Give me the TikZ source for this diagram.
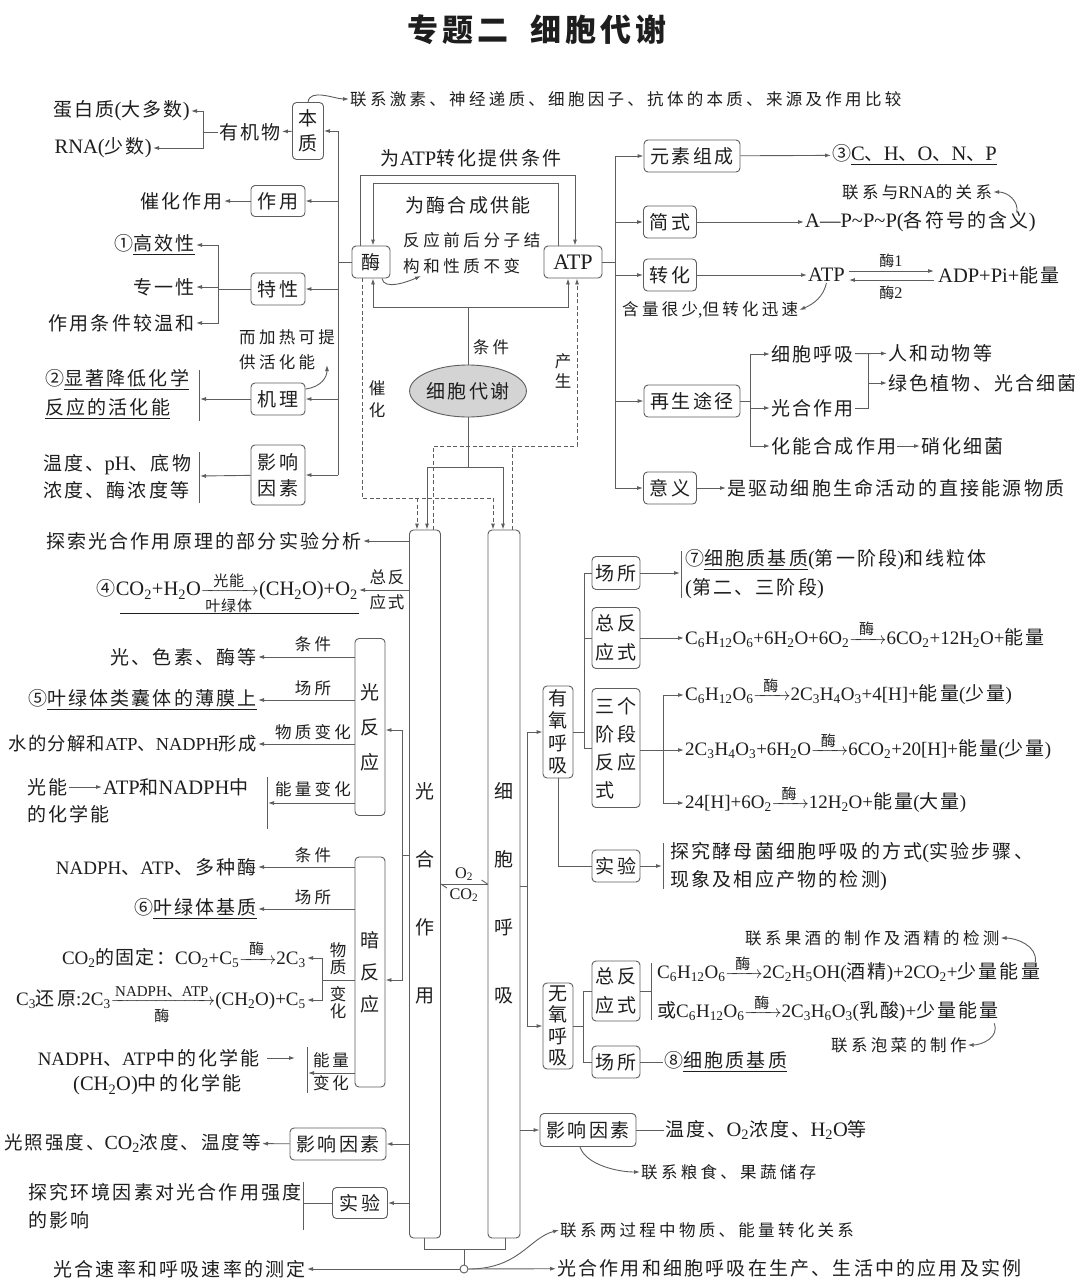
\documentclass[tikz,border=0pt]{standalone}
\usepackage{amsmath}
\usepackage{fontspec}
\setmainfont{Noto Sans CJK SC}
\newfontfamily\latfa{Liberation Serif}[Scale=1.08]
\newfontfamily\latfs{Liberation Serif}
\let\latf\latfa
\usetikzlibrary{arrows.meta,shapes.geometric,calc}
\definecolor{lc}{HTML}{5E5E5E}
\definecolor{tc}{HTML}{1E1E1E}
\definecolor{ellg}{HTML}{D4D4D4}
\newdimen\cjkgap \cjkgap=2.2pt
\chardef\CJKcls=42
\chardef\LATcls=43
\newcount\clscnt
\def\setcls#1#2#3{\clscnt=#2\relax\loop\XeTeXcharclass\clscnt=#1\relax\advance\clscnt by 1\relax\ifnum\clscnt<#3\relax\repeat}
\setcls{\CJKcls}{"4E00}{"A000}
\setcls{\CJKcls}{"3000}{"3040}
\setcls{\CJKcls}{"FF00}{"FFF0}
\setcls{\CJKcls}{"2460}{"2500}
\setcls{\LATcls}{"21}{"7F}
\setcls{\LATcls}{"2010}{"2028}
\XeTeXinterchartokenstate=1
\XeTeXinterchartoks 4095 \LATcls = {\latf}
\XeTeXinterchartoks \CJKcls \LATcls = {\latf}
\XeTeXinterchartoks 0 \LATcls = {\latf}
\XeTeXinterchartoks \LATcls \CJKcls = {\rmfamily}
\XeTeXinterchartoks \LATcls 4095 = {\rmfamily}
\XeTeXinterchartoks \LATcls 0 = {\rmfamily}
\XeTeXinterchartoks \CJKcls \CJKcls = {\kern\cjkgap}
\newcommand\msz{\fontsize{19}{23}\selectfont\cjkgap=2.2pt\relax}
\newcommand\fsz{\msz\let\latf\latfs}
\newcommand\ssz{\fontsize{16.5}{20}\selectfont\cjkgap=3.3pt\relax}
\newcommand\lsz{\fontsize{15}{18}\selectfont\cjkgap=1pt\relax}
\newcommand\rxa[1]{$\smash{\xrightarrow{\text{\lsz\makebox[26pt]{#1}}}}$}
\newcommand\rxb[2]{$\smash{\xrightarrow[\text{\lsz #2}]{\text{\lsz #1}}}$}
\newcommand\sub[1]{\textsubscript{#1}}
\begin{document}
\begin{tikzpicture}[x=1pt,y=-1pt,
  every node/.style={inner sep=1pt,text=tc,font=\msz},
  ln/.style={draw=lc,line width=0.9pt},
  arr/.style={ln,-{Latex[length=6pt,width=4pt]}},
  dl/.style={ln,dash pattern=on 4pt off 2.5pt},
  bx/.style={draw=lc,line width=0.9pt,rounded corners=4pt,inner sep=2pt,align=center},
  sm/.style={font=\ssz},
  fm/.style={font=\fsz}]
\fill[white] (0,0) rectangle (1080,1286);
\useasboundingbox (0,0) rectangle (1080,1286);
% title
\node[font={\fontsize{31}{36}\selectfont\bfseries\cjkgap=4pt}] (title) at (537,30) {专题二\hspace{22pt}细胞代谢};
% ===== enzyme =====
\node[bx,minimum width=31,minimum height=57,font={\fontsize{19}{25}\selectfont}] (bz) at (308,131) {本\\质};
\node (yjw) at (250,132) {有机物};
\coordinate (b1) at (203,132);
\node[anchor=east] (dbz) at (191,111) {蛋白质(大多数)};
\node[anchor=east] (rna) at (153,148) {RNA(少数)};
\draw[arr] (bz) -- (yjw);
\draw[ln] (yjw) -- (b1);
\draw[arr] (b1) |- (dbz);
\draw[arr] (b1) |- (rna);
\coordinate (sp1) at (338,131);
\coordinate (sp5) at (338,475);
\draw[ln] (sp1) -- (sp5);
\draw[arr] (sp1) -- (bz);
\node[bx,minimum width=54,minimum height=31] (zy) at (278,201) {作用};
\draw[arr] (zy.east -| sp1) -- (zy);
\node[anchor=east] (chzy) at (224,201) {催化作用};
\draw[arr] (zy) -- (chzy);
\node[bx,minimum width=54,minimum height=32] (tx) at (278,289) {特性};
\draw[arr] (tx.east -| sp1) -- (tx);
\coordinate (b2) at (218,289);
\draw[ln] (tx) -- (b2);
\node[anchor=east] (gxx) at (196,245) {①\underline{高效性}};
\node[anchor=east] (zyx) at (196,287) {专一性};
\node[anchor=east] (whx) at (196,323) {作用条件较温和};
\draw[arr] (b2) |- (gxx);
\draw[arr] (b2) |- (zyx);
\draw[arr] (b2) |- (whx);
\node[bx,minimum width=54,minimum height=32] (jl) at (278,399) {机理};
\draw[arr] (jl.east -| sp1) -- (jl);
\coordinate (b3) at (200,399);
\draw[arr] (jl) -- (b3);
\draw[ln] (199,370) -- (199,421);
\node[anchor=west,align=left,font={\fontsize{19}{29}\selectfont}] (jlt) at (44,394) {②\underline{显著降低化学}\\\underline{反应的活化能}};
\node[anchor=west,align=left,font={\fontsize{16.5}{25}\selectfont\cjkgap=3.3pt}] (jrt) at (238,350) {而加热可提\\供活化能};
\coordinate (jrtip) at (327,365);
\draw[arr] (jl.east) ++(0,-10) .. controls +(16,-2) and +(0,12) .. (jrtip);
\node[bx,minimum width=54,minimum height=60,font={\fontsize{19}{26}\selectfont}] (yx) at (278,475) {影响\\因素};
\draw[arr] (sp5) -- (yx);
\coordinate (b4) at (200,476);
\draw[arr] (yx) -- (b4);
\draw[ln] (199,452) -- (199,503);
\node[anchor=west,align=left,font={\fontsize{19}{27}\selectfont}] (yxt) at (42,477) {温度、pH、底物\\浓度、酶浓度等};
\node[anchor=west,sm] (lxjs) at (349,99) {联系激素、神经递质、细胞因子、抗体的本质、来源及作用比较};
\draw[arr] (bz.north) .. controls +(2,-14) and +(-14,0) .. (lxjs.west);
% ===== center =====
\node[bx,minimum width=38,minimum height=32] (mei) at (371,262) {酶};
\node[bx,minimum width=58,minimum height=32,font={\fontsize{20.5}{24}\selectfont}] (atp) at (573,262) {ATP};
\draw[ln] (mei.west -| sp1) -- (mei);
\coordinate (o1) at (360,175); \coordinate (o2) at (575,175);
\draw[arr] (mei.north -| o1) -- (o1) -- (o2) -- (atp.north -| o2);
\coordinate (i1) at (558,183); \coordinate (i2) at (373,183);
\draw[arr] (atp.north -| i1) -- (i1) -- (i2) -- (mei.north -| i2);
\node (wzh) at (471,158) {为ATP转化提供条件};
\node (wmh) at (468,205) {为酶合成供能};
\node[anchor=west,align=left,font={\fontsize{16.5}{26}\selectfont\cjkgap=3.6pt}] (fyq) at (402,253) {反应前后分子结\\构和性质不变};
\coordinate (fytip) at (421,276);
\draw[arr] (mei.south) ++(11,0) .. controls +(2,12) and +(-14,6) .. (fytip);
\node[ellipse,draw=lc,line width=0.9pt,fill=ellg,minimum width=114,minimum height=52,inner sep=0pt] (xb) at (468,391) {细胞代谢};
\coordinate (c0) at (468,307); \coordinate (c1) at (373,307); \coordinate (c2) at (568,307);
\draw[ln] (xb) -- (c0);
\draw[arr] (c0) -- (c1) -- (mei.south -| c1);
\draw[arr] (c0) -- (c2) -- (atp.south -| c2);
\node[sm] (tj0) at (491,347) {条件};
\node[align=center,font={\fontsize{16.5}{22}\selectfont}] (chl) at (377,399) {催\\化};
\node[align=center,font={\fontsize{16.5}{20}\selectfont}] (csl) at (563,371) {产\\生};
% columns
\node[bx,minimum width=31,minimum height=708] (gh) at (425,884) {};
\node[bx,minimum width=32,minimum height=708] (xh) at (504,884) {};
\node[align=center,font={\fontsize{19}{68}\selectfont}] (ght) at (425,893) {光\\合\\作\\用};
\node[align=center,font={\fontsize{19}{68}\selectfont}] (xht) at (504,893) {细\\胞\\呼\\吸};
\coordinate (f0) at (468,467); \coordinate (f1) at (427,467); \coordinate (f2) at (503,467);
\draw[ln] (xb) -- (f0);
\draw[ln] (f1) -- (f2);
\draw[arr] (f1) -- (gh.north -| f1);
\draw[arr] (f2) -- (xh.north -| f2);
\coordinate (d1) at (362,498); \coordinate (d2) at (493,498); \coordinate (d3) at (417,498);
\draw[dl] (mei.south -| d1) -- (d1) -- (d2);
\draw[dl,arr] (d3) -- (gh.north -| d3);
\draw[dl,arr] (d2) -- (xh.north -| d2);
\coordinate (e1) at (577,446); \coordinate (e2) at (433,446); \coordinate (e3) at (512,446);
\draw[dl,arr] (gh.north -| e2) -- (e2) -- (e1) -- (atp.south -| e1);
\draw[dl] (xh.north -| e3) -- (e3);
% O2 CO2
\draw[ln] (gh.east) -- (xh.west);
\draw[ln] (xh.west) -- ++(-6,-4);
\draw[ln] (gh.east) -- ++(6,4);
\node[font=\lsz] (o2l) at (464,874) {O\sub{2}};
\node[font=\lsz] (co2l) at (464,895) {CO\sub{2}};
% ===== photosynthesis left =====
\node[anchor=east] (tsg) at (363,541) {探索光合作用原理的部分实验分析};
\draw[arr] (gh.west |- tsg) -- (tsg);
\node[align=center,font={\fontsize{16.5}{25}\selectfont\cjkgap=2pt}] (zfy) at (387,590) {总反\\应式};
\node[anchor=east] (f4) at (359,590) {④CO\sub{2}+H\sub{2}O\rxb{光能}{叶绿体}(CH\sub{2}O)+O\sub{2}};
\draw[arr] (gh.west |- zfy) -- (f4);
\draw[tc,line width=0.7pt] ($(f4.east)+(0,23)$) -- ($(f4.west)+(24,23)$);
\node[bx,minimum width=30,minimum height=177,font={\fontsize{19}{35}\selectfont}] (gfy) at (370,727) {光\\反\\应};
\node[bx,minimum width=30,minimum height=230,font={\fontsize{19}{32}\selectfont}] (afy) at (370,972) {暗\\反\\应};
\coordinate (g1) at (402,855);
\draw[ln] (gh.west |- g1) -- (g1);
\draw[arr] (g1) |- ($(gfy.east)+(0,3)$);
\draw[arr] (g1) |- ($(afy.east)+(0,8)$);
\node[anchor=east] (gt1) at (258,657) {光、色素、酶等};
\node[anchor=east] (gt2) at (258,700) {⑤\underline{叶绿体类囊体的薄膜上}};
\node[anchor=east,font={\fontsize{18.3}{22}\selectfont\cjkgap=1.2pt\let\latf\latfs}] (gt3) at (258,744) {水的分解和ATP、NADPH形成};
\coordinate (gb4) at (268,803);
\draw[arr] (gfy.west |- gt1) -- (gt1);
\draw[arr] (gfy.west |- gt2) -- (gt2);
\draw[arr] (gfy.west |- gt3) -- (gt3);
\draw[arr] (gfy.west |- gb4) -- (gb4);
\draw[ln] (267,777) -- (267,829);
\node[sm] (gl1) at (313,644) {条件};
\node[sm] (gl2) at (313,688) {场所};
\node[sm] (gl3) at (313,732) {物质变化};
\node[sm] (gl4) at (313,789) {能量变化};
\node[anchor=west] (gn) at (26,787) {光能};
\node[anchor=west] (gatp) at (102,787) {ATP和NADPH中};
\draw[arr] (gn) -- (gatp);
\node[anchor=west] (ghx) at (26,814) {的化学能};
% dark reaction
\node[anchor=east,fm] (at1) at (258,867) {NADPH、ATP、多种酶};
\node[anchor=east] (at2) at (258,909) {⑥\underline{叶绿体基质}};
\draw[arr] (afy.west |- at1) -- (at1);
\draw[arr] (afy.west |- at2) -- (at2);
\node[sm] (al1) at (313,855) {条件};
\node[sm] (al2) at (313,897) {场所};
\coordinate (m0) at (322,980);
\draw[ln] (afy.west |- m0) -- (m0);
\node[anchor=east,font={\fsz\cjkgap=1.2pt}] (f5) at (307,958) {CO\sub{2}的固定：CO\sub{2}+C\sub{5}\rxa{酶}2C\sub{3}};
\node[anchor=east,fm] (f6) at (307,1000) {C\sub{3}还原:2C\sub{3}\rxb{NADPH、ATP}{酶}(CH\sub{2}O)+C\sub{5}};
\draw[arr] (m0) |- (f5);
\draw[arr] (m0) |- (f6);
\node[align=center,font={\fontsize{16.5}{17}\selectfont}] (al3) at (338,959) {物\\质};
\node[align=center,font={\fontsize{16.5}{17}\selectfont}] (al4) at (338,1003) {变\\化};
\coordinate (ab4) at (308,1073);
\draw[arr] (afy.west |- ab4) -- (ab4);
\draw[ln] (307,1047) -- (307,1093);
\node[align=left,font={\fontsize{16.5}{23}\selectfont\cjkgap=3pt}] (al5) at (331,1072) {能量\\变化};
\node[anchor=east,fm] (nd1) at (261,1058) {NADPH、ATP中的化学能};
\draw[arr] (nd1.east) ++(6,0) -- ++(28,0);
\node[anchor=west] (nd2) at (72,1085) {(CH\sub{2}O)中的化学能};
\node[bx,minimum width=96,minimum height=32] (gyx) at (338,1144) {影响因素};
\draw[arr] (gh.west |- gyx) -- (gyx);
\node[anchor=east,font={\fontsize{18.5}{22}\selectfont\cjkgap=2pt}] (gyxt) at (262,1143) {光照强度、CO\sub{2}浓度、温度等};
\draw[arr] (gyx) -- (gyxt);
\node[bx,minimum width=55,minimum height=31] (sy) at (360,1203) {实验};
\draw[arr] (gh.west |- sy) -- (sy);
\coordinate (sb) at (303,1203);
\draw[ln] (sy) -- (sb);
\draw[ln] (303,1182) -- (303,1230);
\node[anchor=west,align=left,font={\fontsize{19}{28}\selectfont}] (syt) at (27,1206) {探究环境因素对光合作用强度\\的影响};
% bottom
\coordinate (k1) at (424,1249); \coordinate (k2) at (505,1249); \coordinate (k0) at (464,1249);
\draw[ln] (gh.south -| k1) -- (k1) -- (k2) -- (xh.south -| k2);
\node[circle,draw=lc,line width=0.9pt,fill=white,minimum size=8,inner sep=0pt] (cz0) at (464,1269) {};
\draw[ln] (k0) -- (cz0);
\node[anchor=east] (slt) at (307,1269) {光合速率和呼吸速率的测定};
\draw[arr] (cz0) -- (slt);
\node[anchor=west] (yyt2) at (556,1268) {光合作用和细胞呼吸在生产、生活中的应用及实例};
\draw[arr] (cz0) -- (yyt2);
\node[anchor=west,sm] (lx2) at (559,1230) {联系两过程中物质、能量转化关系};
\draw[arr] (cz0) .. controls +(55,0) and +(-30,8) .. (lx2.west);
% ===== ATP right =====
\coordinate (r1) at (615,156); \coordinate (r5) at (615,488);
\draw[ln] (r1) -- (r5);
\draw[ln] (atp) -- (atp.east -| r1);
\node[bx,minimum width=96,minimum height=32] (ys) at (692,156) {元素组成};
\node[bx,minimum width=53,minimum height=32] (jsb) at (670,222) {简式};
\node[bx,minimum width=53,minimum height=32] (zh) at (670,275) {转化};
\node[bx,minimum width=96,minimum height=32] (zs) at (692,401) {再生途径};
\node[bx,minimum width=53,minimum height=32] (yy) at (670,488) {意义};
\draw[arr] (r1) -- (ys);
\draw[arr] (jsb.west -| r1) -- (jsb);
\draw[arr] (zh.west -| r1) -- (zh);
\draw[arr] (zs.west -| r1) -- (zs);
\draw[arr] (r5) -- (yy);
\node[anchor=west] (cho) at (831,155) {③\underline{C、H、O、N、P}};
\draw[arr] (ys) -- (cho);
\node[anchor=west] (apx) at (804,222) {A—P\textasciitilde P\textasciitilde P(各符号的含义)};
\draw[arr] (jsb) -- (apx);
\node[anchor=west,sm] (rnag) at (841,192) {联系与RNA的关系};
\draw[arr] (apx.north east) ++(-20,2) .. controls +(2,-12) and +(14,0) .. (rnag.east);
\node[anchor=west] (atp2) at (807,275) {ATP};
\draw[arr] (zh) -- (atp2);
\node[anchor=west] (adp) at (937,275) {ADP+Pi+能量};
\draw[arr] ($(atp2.east)+(3,-4)$) -- ($(adp.west)+(-3,-4)$);
\draw[arr] ($(adp.west)+(-3,5)$) -- ($(atp2.east)+(3,5)$);
\node[font=\lsz] (m1) at (891,261) {酶1};
\node[font=\lsz] (m2) at (891,293) {酶2};
\node[anchor=west,sm] (hl) at (621,310) {含量很少,但转化迅速};
\draw[arr] (atp2.south) .. controls +(-3,14) and +(14,-6) .. (hl.east);
\coordinate (z0) at (750,401);
\draw[ln] (zs) -- (z0);
\node[anchor=west] (zxh) at (770,354) {细胞呼吸};
\node[anchor=west] (zgh) at (770,408) {光合作用};
\node[anchor=west] (zhn) at (770,446) {化能合成作用};
\draw[arr] (z0) |- (zxh);
\draw[arr] (z0) |- (zgh);
\draw[arr] (z0) |- (zhn);
\node[anchor=west] (rhdw) at (887,353) {人和动物等};
\draw[arr] (zxh) -- (rhdw);
\coordinate (z1) at (868,383);
\draw[ln] (zxh.east -| z1) -- (zgh.east -| z1) -- (zgh);
\node[anchor=west] (lszw) at (887,383) {绿色植物、光合细菌};
\draw[arr] (z1) -- (lszw);
\node[anchor=west] (xhxj) at (920,446) {硝化细菌};
\draw[arr] (zhn) -- (xhxj);
\node[anchor=west] (yyt) at (726,488) {是驱动细胞生命活动的直接能源物质};
\draw[arr] (yy) -- (yyt);
% ===== respiration right =====
\node[bx,minimum width=30,minimum height=92,font={\fontsize{19}{22.5}\selectfont}] (yyhx) at (558,732) {有\\氧\\呼\\吸};
\node[bx,minimum width=30,minimum height=86,font={\fontsize{19}{21.5}\selectfont}] (wyhx) at (558,1026) {无\\氧\\呼\\吸};
\coordinate (h0) at (527,886);
\draw[ln] (xh.east |- h0) -- (h0);
\draw[arr] (h0) |- (yyhx);
\draw[arr] (h0) |- (wyhx);
\node[bx,minimum width=96,minimum height=33] (yxr) at (588,1130) {影响因素};
\draw[arr] (xh.east |- yxr) -- (yxr);
\node[anchor=west] (yxrt) at (664,1130) {温度、O\sub{2}浓度、H\sub{2}O等};
\draw[ln] (yxr) -- (yxrt);
\node[anchor=west,sm] (lxls) at (640,1172) {联系粮食、果蔬储存};
\draw[arr] (yxr.south) ++(-8,0) .. controls +(6,18) and +(-22,0) .. (lxls.west);
\node[bx,minimum width=48,minimum height=33] (cs1) at (616,573) {场所};
\node[bx,minimum width=48,minimum height=61,font={\fontsize{19}{29}\selectfont}] (zf1) at (616,638) {总反\\应式};
\node[bx,minimum width=48,minimum height=119,align=left,font={\fontsize{19}{28}\selectfont}] (sj) at (616,748) {三个\\阶段\\反应\\式};
\coordinate (a0) at (584,732);
\draw[ln] (yyhx) -- (a0);
\draw[ln] (cs1.west -| a0) -- (sj.west -| a0);
\draw[ln] (cs1.west -| a0) -- (cs1);
\draw[ln] (zf1.west -| a0) -- (zf1);
\draw[ln] (sj.west -| a0) -- (sj);
\coordinate (cb1) at (680,573);
\draw[arr] (cs1) -- (cb1);
\draw[ln] (681,551) -- (681,598);
\node[anchor=west,align=left,font={\fontsize{19}{29}\selectfont}] (cs1t) at (684,574) {⑦\underline{细胞质基质}(第一阶段)和线粒体\\(第二、三阶段)};
\node[anchor=west,fm] (zf1t) at (684,638) {C\sub{6}H\sub{12}O\sub{6}+6H\sub{2}O+6O\sub{2}\rxa{酶}6CO\sub{2}+12H\sub{2}O+能量};
\draw[arr] (zf1) -- (zf1t);
\coordinate (s0) at (663,750);
\draw[ln] (sj.east |- s0) -- (s0);
\node[anchor=west,fm] (q1) at (684,695) {C\sub{6}H\sub{12}O\sub{6}\rxa{酶}2C\sub{3}H\sub{4}O\sub{3}+4[H]+能量(少量)};
\node[anchor=west,fm] (q2) at (684,750) {2C\sub{3}H\sub{4}O\sub{3}+6H\sub{2}O\rxa{酶}6CO\sub{2}+20[H]+能量(少量)};
\node[anchor=west,fm] (q3) at (684,803) {24[H]+6O\sub{2}\rxa{酶}12H\sub{2}O+能量(大量)};
\draw[arr] (s0) |- (q1);
\draw[arr] (s0) |- (q2);
\draw[arr] (s0) |- (q3);
\node[bx,minimum width=48,minimum height=32] (syr) at (616,866) {实验};
\draw[ln] (yyhx.south) |- (syr);
\coordinate (sb2) at (662,866);
\draw[arr] (syr) -- (sb2);
\draw[ln] (663,843) -- (663,889);
\node[anchor=west,align=left,font={\fontsize{19}{28}\selectfont}] (syrt) at (669,867) {探究酵母菌细胞呼吸的方式(实验步骤、\\现象及相应产物的检测)};
\coordinate (w0) at (583,1026);
\draw[ln] (wyhx) -- (w0);
\node[bx,minimum width=48,minimum height=60,font={\fontsize{19}{29}\selectfont}] (zf2) at (616,991) {总反\\应式};
\node[bx,minimum width=48,minimum height=32] (cs2) at (616,1062) {场所};
\draw[ln] (zf2.west -| w0) -- (cs2.west -| w0);
\draw[ln] (zf2.west -| w0) -- (zf2);
\draw[ln] (cs2.west -| w0) -- (cs2);
\coordinate (zb2) at (651,991);
\draw[ln] (zf2) -- (zb2);
\draw[ln] (651,963) -- (651,1020);
\node[anchor=west,fm] (rr1) at (656,973) {C\sub{6}H\sub{12}O\sub{6}\rxa{酶}2C\sub{2}H\sub{5}OH(酒精)+2CO\sub{2}+少量能量};
\node[anchor=west,fm] (rr2) at (656,1012) {或C\sub{6}H\sub{12}O\sub{6}\rxa{酶}2C\sub{3}H\sub{6}O\sub{3}(乳酸)+少量能量};
\node[anchor=west,sm] (lxjj) at (744,938) {联系果酒的制作及酒精的检测};
\draw[arr] (rr1.north east) ++(-6,0) .. controls +(2,-16) and +(16,0) .. (lxjj.east);
\node[anchor=west,sm] (lxpc) at (830,1045) {联系泡菜的制作};
\draw[arr] (rr2.south east) ++(-6,0) .. controls +(6,14) and +(14,0) .. (lxpc.east);
\node[anchor=west] (bjz) at (663,1062) {⑧\underline{细胞质基质}};
\draw[ln] (cs2) -- (bjz);
\end{tikzpicture}
\end{document}
